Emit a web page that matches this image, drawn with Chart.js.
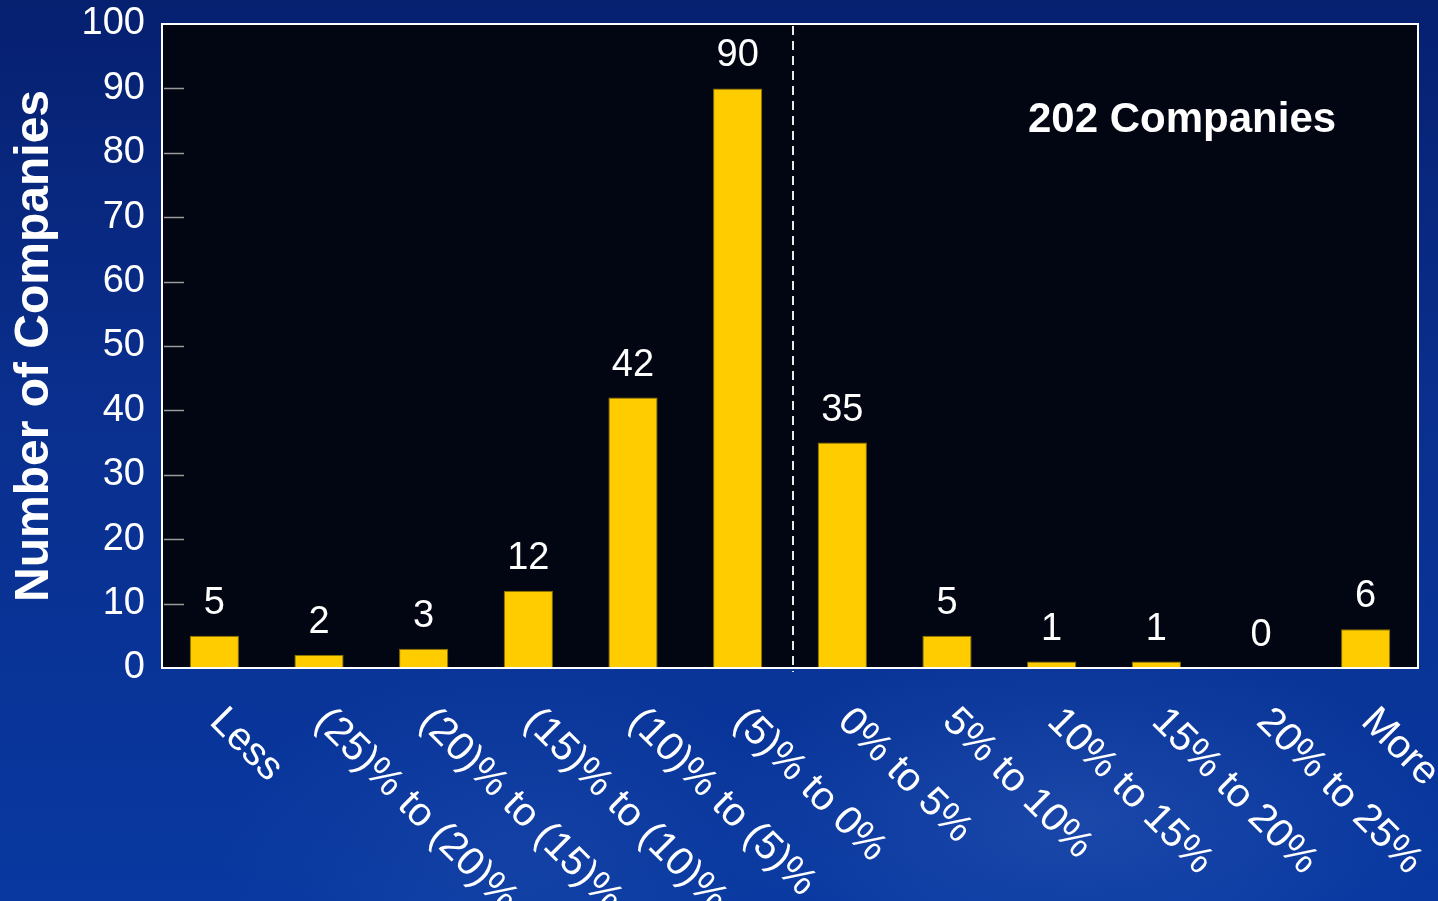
<!DOCTYPE html>
<html>
<head>
<meta charset="utf-8">
<script src="https://cdn.jsdelivr.net/npm/chart.js@4/dist/chart.umd.min.js"></script>
<style>
  html, body { margin: 0; padding: 0; overflow: hidden; }
  body {
    width: 1438px; height: 901px;
    background:
      radial-gradient(ellipse 520px 260px at 1080px 820px, rgba(90,130,210,0.22), rgba(90,130,210,0) 70%),
      radial-gradient(ellipse 420px 300px at 520px 860px, rgba(80,120,200,0.15), rgba(80,120,200,0) 70%),
      linear-gradient(180deg, #062070 0%, #0a2f8e 45%, #0838a0 100%);
  }
  #wrap { position: absolute; left: 0; top: 0; width: 1438px; height: 901px; }
</style>
</head>
<body>
<div id="wrap"><canvas id="histChart" width="1438" height="901"></canvas></div>
<script>
// Distribution of companies by range
const categories = ['Less', '(25)% to (20)%', '(20)% to (15)%', '(15)% to (10)%', '(10)% to (5)%', '(5)% to 0%',
  '0% to 5%', '5% to 10%', '10% to 15%', '15% to 20%', '20% to 25%', 'More'];
const companyCounts = [5, 2, 3, 12, 42, 90, 35, 5, 1, 1, 0, 6];
const yTicks = [0, 10, 20, 30, 40, 50, 60, 70, 80, 90, 100];
const totalLabel = '202 Companies';
const dividerAfter = 5; // dashed line between (5)% to 0% and 0% to 5%

const FONT = '"Liberation Sans", Arial, Helvetica, sans-serif';

const chartDecor = {
  id: 'chartDecor',
  beforeDraw(chart) {
    const { ctx, chartArea: a } = chart;
    ctx.save();
    ctx.fillStyle = '#020612';
    ctx.fillRect(a.left, a.top, a.right - a.left, a.bottom - a.top);
    ctx.restore();
  },
  afterDatasetsDraw(chart) {
    const { ctx, chartArea: a, scales } = chart;
    const x = scales.x, y = scales.y;
    ctx.save();

    // short tick marks inside the plot
    ctx.strokeStyle = '#9a9a9a';
    ctx.lineWidth = 1.5;
    yTicks.forEach(v => {
      if (v === 0 || v === 100) return;
      const py = Math.round(y.getPixelForValue(v)) + 0.5;
      ctx.beginPath();
      ctx.moveTo(a.left + 2, py);
      ctx.lineTo(a.left + 22, py);
      ctx.stroke();
    });

    // dashed divider
    const dx = (x.getPixelForValue(dividerAfter) + x.getPixelForValue(dividerAfter + 1)) / 2 + 3;
    ctx.strokeStyle = '#e8e8e8';
    ctx.lineWidth = 2;
    ctx.setLineDash([9, 6]);
    ctx.beginPath();
    ctx.moveTo(dx, a.top + 2);
    ctx.lineTo(dx, a.bottom + 4);
    ctx.stroke();
    ctx.setLineDash([]);

    // plot border
    ctx.strokeStyle = '#ffffff';
    ctx.lineWidth = 2;
    ctx.strokeRect(a.left, a.top, a.right - a.left, a.bottom - a.top);

    // value labels
    ctx.fillStyle = '#ffffff';
    ctx.font = '38px ' + FONT;
    ctx.textAlign = 'center';
    ctx.textBaseline = 'alphabetic';
    companyCounts.forEach((v, i) => {
      ctx.fillText(String(v), x.getPixelForValue(i), y.getPixelForValue(v) - 22);
    });

    // rotated category labels
    ctx.font = '40px ' + FONT;
    ctx.textAlign = 'left';
    categories.forEach((c, i) => {
      ctx.save();
      ctx.translate(x.getPixelForValue(i) - 6, a.bottom + 55);
      ctx.rotate(Math.PI / 4);
      ctx.fillText(c, 0, 0);
      ctx.restore();
    });

    // total annotation
    ctx.font = 'bold 42px ' + FONT;
    ctx.textAlign = 'left';
    ctx.fillText(totalLabel, a.left + 866, a.top + 108);
    ctx.restore();
  }
};

const ctx = document.getElementById('histChart').getContext('2d');
const histChart = new Chart(ctx, {
  type: 'bar',
  data: {
    labels: categories,
    datasets: [{
      label: 'Number of Companies',
      data: companyCounts,
      backgroundColor: '#ffcc00',
      borderColor: '#8a7200',
      borderWidth: 1,
      barPercentage: 0.47,
      categoryPercentage: 1
    }]
  },
  options: {
    responsive: false,
    animation: false,
    layout: { padding: { left: 0, top: 24, right: 20, bottom: 233 } },
    plugins: {
      legend: { display: false },
      tooltip: { enabled: false }
    },
    scales: {
      x: { display: false },
      y: {
        min: 0,
        max: 100,
        afterFit(scale) {
          scale.width = 162;
          scale.paddingTop = 0;
          scale.paddingBottom = 0;
        },
        afterBuildTicks(scale) { scale.ticks = yTicks.map(v => ({ value: v })); },
        grid: { display: false, drawTicks: false },
        border: { display: false },
        ticks: {
          color: '#ffffff',
          padding: 17,
          font: { family: FONT, size: 38 }
        },
        title: {
          display: true,
          text: 'Number of Companies',
          color: '#ffffff',
          font: { family: FONT, size: 48, weight: 'bold', lineHeight: 1.45 },
          padding: 0
        }
      }
    }
  },
  plugins: [chartDecor]
});
</script>
</body>
</html>
